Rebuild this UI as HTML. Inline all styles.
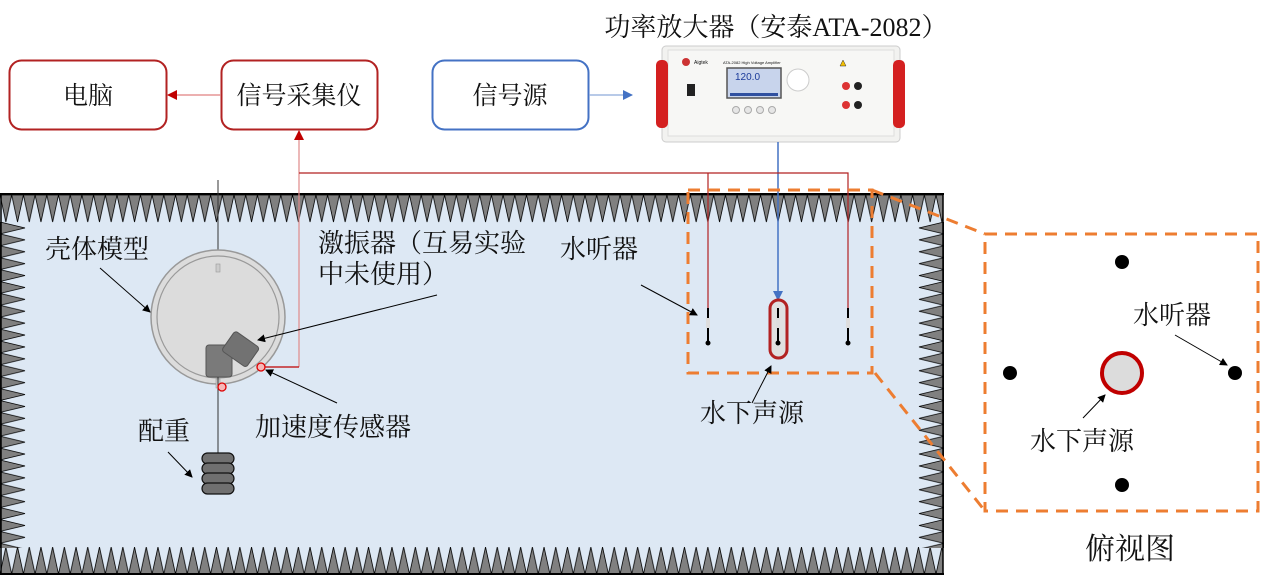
<!DOCTYPE html>
<html><head><meta charset="utf-8"><style>
html,body{margin:0;padding:0;background:#fff;}
svg{display:block;}
text{font-family:"Liberation Serif","Noto Serif CJK SC",serif;fill:#111;}
</style></head><body>
<svg width="1263" height="586" viewBox="0 0 1263 586" xmlns="http://www.w3.org/2000/svg">
<defs>
<pattern id="tt" x="0" y="195" width="11.7" height="28" patternUnits="userSpaceOnUse">
<polygon points="0,0 11.7,0 5.85,27" fill="#808080" stroke="#000" stroke-width="0.8"/></pattern>
<pattern id="bt" x="0" y="547" width="11.7" height="27" patternUnits="userSpaceOnUse">
<polygon points="5.85,0 11.7,27 0,27" fill="#808080" stroke="#000" stroke-width="0.8"/></pattern>
<pattern id="lt" x="0" y="222" width="26" height="11.9" patternUnits="userSpaceOnUse">
<polygon points="0,0 25,5.95 0,11.9" fill="#808080" stroke="#000" stroke-width="0.8"/></pattern>
<pattern id="rt" x="918" y="222" width="26" height="11.9" patternUnits="userSpaceOnUse">
<polygon points="26,0 1,5.95 26,11.9" fill="#808080" stroke="#000" stroke-width="0.8"/></pattern>
<marker id="ak" markerWidth="8" markerHeight="8" refX="7" refY="4" orient="auto" markerUnits="userSpaceOnUse"><path d="M0,0 L8,4 L0,8 z" fill="#000"/></marker>
<marker id="ar" markerWidth="10" markerHeight="10" refX="9" refY="5" orient="auto" markerUnits="userSpaceOnUse"><path d="M0,0 L10,5 L0,10 z" fill="#c00000"/></marker>
<marker id="ab" markerWidth="10" markerHeight="10" refX="9" refY="5" orient="auto" markerUnits="userSpaceOnUse"><path d="M0,0 L10,5 L0,10 z" fill="#4472c4"/></marker>
</defs>

<rect x="0" y="194" width="943" height="380" fill="#dde8f4"/>
<rect x="0" y="195" width="943" height="28" fill="url(#tt)"/>
<rect x="0" y="547" width="943" height="27" fill="url(#bt)"/>
<rect x="0" y="222" width="26" height="326" fill="url(#lt)"/>
<rect x="918" y="222" width="26" height="326" fill="url(#rt)"/>
<line x1="0" y1="194" x2="944" y2="194" stroke="#000" stroke-width="2"/>
<line x1="0" y1="574" x2="944" y2="574" stroke="#000" stroke-width="2"/>
<line x1="943" y1="194" x2="943" y2="574" stroke="#000" stroke-width="1.5"/>
<line x1="1" y1="194" x2="1" y2="574" stroke="#000" stroke-width="1.5"/>

<rect x="9.5" y="60.5" width="157" height="69" rx="12" fill="#fff" stroke="#b22222" stroke-width="2"/>
<text x="88" y="104" font-size="25" text-anchor="middle">电脑</text>
<rect x="221.5" y="60.5" width="156" height="69" rx="12" fill="#fff" stroke="#b22222" stroke-width="2"/>
<text x="299" y="104" font-size="25" text-anchor="middle">信号采集仪</text>
<rect x="432.5" y="60.5" width="156" height="69" rx="12" fill="#fff" stroke="#4472c4" stroke-width="2"/>
<text x="510" y="104" font-size="25" text-anchor="middle">信号源</text>
<line x1="221" y1="95" x2="168" y2="95" stroke="#e08080" stroke-width="1.2" marker-end="url(#ar)"/>
<line x1="589" y1="95" x2="632" y2="95" stroke="#8eaadb" stroke-width="1.2" marker-end="url(#ab)"/>

<text x="776" y="36" font-size="26" text-anchor="middle">功率放大器（安泰ATA-2082）</text>
<rect x="662" y="46" width="238" height="96" rx="4" fill="#f2f2f0" stroke="#ccc"/>
<rect x="668" y="50" width="226" height="86" fill="#f7f7f5" stroke="#ddd"/>
<rect x="656" y="60" width="12" height="68" rx="5" fill="#d42020"/>
<rect x="893" y="60" width="12" height="68" rx="5" fill="#d42020"/>
<circle cx="686" cy="62" r="4" fill="#c33"/>
<text x="694" y="64" font-size="5" style="font-family:'Liberation Sans',sans-serif">Aigtek</text>
<text x="723" y="64" font-size="4" style="font-family:'Liberation Sans',sans-serif">ATA-2082 High Voltage Amplifier</text>
<rect x="687" y="84" width="8" height="12" fill="#222"/>
<rect x="727" y="68" width="54" height="30" fill="#c8d4ec" stroke="#555" stroke-width="1.5"/>
<text x="735" y="80" font-size="10" style="font-family:'Liberation Sans',sans-serif;fill:#1a3a9a">120.0</text>
<rect x="730" y="93" width="48" height="3" fill="#3050a0"/>
<circle cx="798" cy="80" r="11" fill="#fff" stroke="#ccc"/>
<circle cx="736" cy="110" r="3.5" fill="#e6e6e6" stroke="#aaa"/><circle cx="748" cy="110" r="3.5" fill="#e6e6e6" stroke="#aaa"/><circle cx="760" cy="110" r="3.5" fill="#e6e6e6" stroke="#aaa"/><circle cx="772" cy="110" r="3.5" fill="#e6e6e6" stroke="#aaa"/>
<polygon points="840,66 846,66 843,60" fill="#f5c000" stroke="#333" stroke-width="0.5"/>
<circle cx="846" cy="86" r="4" fill="#d33"/><circle cx="858" cy="86" r="4" fill="#222"/>
<circle cx="846" cy="105" r="4" fill="#d33"/><circle cx="858" cy="105" r="4" fill="#222"/>

<line x1="778" y1="142" x2="778" y2="300" stroke="#4472c4" stroke-width="1.5" marker-end="url(#ab)"/>
<line x1="299" y1="367" x2="299" y2="131" stroke="#e08a8a" stroke-width="1.2" marker-end="url(#ar)"/>
<polyline points="265,367 299,367" fill="none" stroke="#c00000" stroke-width="1.2"/>
<polyline points="299,173 848,173 848,308" fill="none" stroke="#b22222" stroke-width="1.2"/>
<line x1="708" y1="173" x2="708" y2="308" stroke="#b22222" stroke-width="1.2"/>
<line x1="218" y1="180" x2="218" y2="265" stroke="#333" stroke-width="1"/>

<circle cx="218" cy="317" r="67" fill="#dcdcdc" stroke="#999" stroke-width="1.5"/>
<circle cx="218" cy="317" r="61" fill="none" stroke="#999" stroke-width="1.2"/>
<rect x="216" y="264" width="4" height="8" fill="#ccc" stroke="#999" stroke-width="0.6"/>
<rect x="216" y="379" width="4" height="9" fill="#ccc" stroke="#999" stroke-width="0.6"/>
<rect x="206" y="345" width="26" height="32" rx="3" fill="#7a7a7a" stroke="#555"/>
<g transform="rotate(35 240 350)"><rect x="225" y="337" width="30" height="24" rx="3" fill="#727272" stroke="#555"/></g>
<line x1="218" y1="377" x2="218" y2="454" stroke="#333" stroke-width="1"/>
<circle cx="222" cy="387" r="4" fill="#f6b8b8" stroke="#d00" stroke-width="1.3"/>
<circle cx="261" cy="367" r="4" fill="#f6b8b8" stroke="#d00" stroke-width="1.3"/>
<g fill="#707070" stroke="#111" stroke-width="1.2">
<rect x="202" y="453" width="32" height="11" rx="5.5"/>
<rect x="202" y="463" width="32" height="11" rx="5.5"/>
<rect x="202" y="473" width="32" height="11" rx="5.5"/>
<rect x="202" y="483" width="32" height="11" rx="5.5"/>
</g>

<rect x="770" y="300" width="17" height="58" rx="8.5" fill="#e0e0e0" stroke="#b22222" stroke-width="3"/>
<g stroke="#000">
<line x1="708" y1="308" x2="708" y2="342" stroke-width="2"/><line x1="778" y1="308" x2="778" y2="342" stroke-width="2"/><line x1="848" y1="308" x2="848" y2="342" stroke-width="2"/>
</g>
<rect x="706" y="318" width="4" height="10" fill="#ddd"/><rect x="776" y="318" width="4" height="10" fill="#ddd"/><rect x="846" y="318" width="4" height="10" fill="#ddd"/>
<circle cx="708" cy="343" r="2.5"/><circle cx="778" cy="343" r="2.5"/><circle cx="848" cy="343" r="2.5"/>

<g fill="none" stroke="#ed7d31" stroke-width="3" stroke-dasharray="12,8">
<rect x="688" y="190" width="184" height="183"/>
<rect x="985" y="234" width="273" height="277"/>
<line x1="872" y1="190" x2="985" y2="234"/>
<line x1="875" y1="373" x2="985" y2="511"/>
</g>

<circle cx="1122" cy="262" r="7" fill="#000"/>
<circle cx="1010" cy="373" r="7" fill="#000"/>
<circle cx="1235" cy="373" r="7" fill="#000"/>
<circle cx="1122" cy="485" r="7" fill="#000"/>
<circle cx="1122" cy="373" r="20" fill="#dcdcdc" stroke="#c00000" stroke-width="4"/>

<g font-size="26">
<text x="45" y="258">壳体模型</text>
<text x="318" y="252">激振器（互易实验</text>
<text x="318" y="283">中未使用）</text>
<text x="560" y="258">水听器</text>
<text x="138" y="440">配重</text>
<text x="255" y="436">加速度传感器</text>
<text x="700" y="422">水下声源</text>
<text x="1133" y="324">水听器</text>
<text x="1030" y="450">水下声源</text>
</g>
<text x="1085" y="559" font-size="30">俯视图</text>

<g stroke="#000" stroke-width="1" marker-end="url(#ak)">
<line x1="100" y1="268" x2="150" y2="312"/>
<line x1="437" y1="295" x2="258" y2="340"/>
<line x1="337" y1="403" x2="266" y2="370"/>
<line x1="168" y1="452" x2="192" y2="477"/>
<line x1="641" y1="285" x2="697" y2="315"/>
<line x1="752" y1="403" x2="771" y2="366"/>
<line x1="1175" y1="335" x2="1227" y2="365"/>
<line x1="1083" y1="418" x2="1105" y2="395"/>
</g>
</svg>
</body></html>
